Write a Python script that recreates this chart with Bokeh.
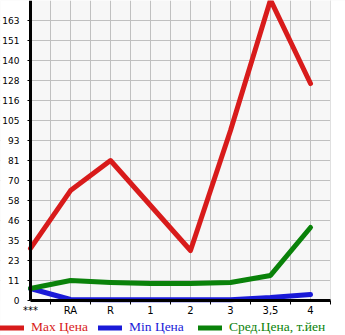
from bokeh.plotting import figure
from bokeh.models import FixedTicker, Range1d, Legend, LegendItem, BoxAnnotation
from bokeh.embed import file_html
from bokeh.resources import INLINE

categories = ["***", "RA", "R", "1", "2", "3", "3,5", "4"]
max_price = [30.3, 64.0, 81.5, 55.3, 29.1, 99.0, 175.0, 126.3]
min_price = [7.0, 0.6, 0.5, 0.5, 0.5, 0.5, 1.7, 3.5]
avg_price = [7.0, 11.6, 10.5, 9.9, 9.9, 10.5, 14.6, 42.5]
y_tick_labels = ["0", "11", "23", "35", "46", "58", "70", "81", "93",
                 "105", "116", "128", "140", "151", "163"]
series_names = ["Max Цена", "Min Цена", "Сред.Цена, т.йен"]

y_step = 163 / 14
y_top = 15 * y_step
xs = list(range(len(categories)))
x_end = len(categories) - 0.5
series = [max_price, min_price, avg_price]

# the frame covers the whole page; the plot area (x 0..7.5, y 0..y_top) sits inside it
p = figure(width=345, height=335, output_backend="svg", toolbar_location=None,
           x_range=Range1d(-0.75, x_end + 15 / 40), y_range=Range1d(-1.75 * y_step, y_top),
           min_border=0, min_border_left=0, min_border_right=0,
           min_border_top=0, min_border_bottom=0)
p.background_fill_color = "#f7f7f7"
p.border_fill_color = "white"
p.outline_line_color = None

# grids
p.xgrid.ticker = FixedTicker(ticks=[0.5 * i for i in range(1, 2 * len(categories))])
p.ygrid.ticker = FixedTicker(ticks=[k * y_step for k in range(1, 16)])
for g in (p.xgrid[0], p.ygrid[0]):
    g.grid_line_color = "#c0c0c0"
    g.grid_line_width = 1

# white surround outside the plot area
for kw in (dict(right=0), dict(top=0), dict(left=x_end)):
    p.add_layout(BoxAnnotation(fill_color="white", fill_alpha=1, line_color=None,
                               level="underlay", **kw))

# axes at fixed positions
p.xaxis.fixed_location = 0
p.xaxis.bounds = (0, x_end)
p.xaxis.ticker = FixedTicker(ticks=xs, minor_ticks=[i + 0.5 for i in xs])
p.xaxis.major_label_overrides = {i: c for i, c in enumerate(categories)}
p.xaxis.major_tick_line_color = None
p.xaxis.major_tick_in = 0
p.xaxis.major_tick_out = 0
p.xaxis.minor_tick_line_color = "black"
p.xaxis.minor_tick_in = 0
p.xaxis.minor_tick_out = 4
p.xaxis.major_label_standoff = 0
p.xaxis.major_label_text_font = "DejaVu Sans"
p.xaxis.major_label_text_font_size = "10px"
p.xaxis.major_label_text_color = "black"

yt = [k * y_step for k in range(len(y_tick_labels))]
p.yaxis.fixed_location = 0
p.yaxis.bounds = (0, y_top)
p.yaxis.ticker = FixedTicker(ticks=yt, minor_ticks=[])
p.yaxis.major_label_overrides = {t: l for t, l in zip(yt, y_tick_labels)}
p.yaxis.major_tick_in = 0
p.yaxis.major_tick_out = 3
p.yaxis.major_tick_line_color = "black"
p.yaxis.major_label_standoff = 8
p.yaxis.major_label_text_font = "DejaVu Sans"
p.yaxis.major_label_text_font_size = "9px"
p.yaxis.major_label_text_color = "black"
p.yaxis.major_label_text_baseline = "alphabetic"

for ax in (p.xaxis[0], p.yaxis[0]):
    ax.axis_line_width = 3
    ax.axis_line_color = "black"

colors = ["#d81b1b", "#1a1ad8", "#0a820a"]
renderers = []
for vals, col in zip(series, colors):
    r = p.line(xs, vals, line_color=col, line_width=5, line_join="round", line_cap="round")
    renderers.append(r)

for name, r, col, x in zip(series_names, renderers, colors, [0, 98, 198]):
    leg = Legend(items=[LegendItem(label=name, renderers=[r])], location=(x, 0),
                 label_text_color=col, label_text_font="Liberation Serif",
                 label_text_font_size="13.5px", glyph_width=24, glyph_height=13,
                 label_height=13, label_standoff=7, padding=0, margin=0,
                 border_line_color=None, background_fill_alpha=0)
    p.add_layout(leg, "center")

open("out.html", "w").write(file_html(p, INLINE))
